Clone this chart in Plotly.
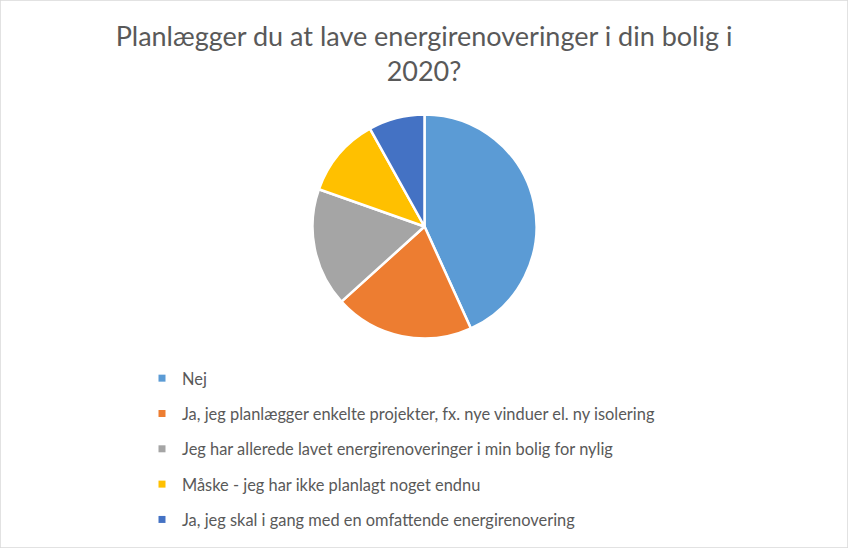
import plotly.graph_objects as go

labels = [
    "Nej",
    "Ja, jeg planlægger enkelte projekter, fx. nye vinduer el. ny isolering",
    "Jeg har allerede lavet energirenoveringer i min bolig for nylig",
    "Måske - jeg har ikke planlagt noget endnu",
    "Ja, jeg skal i gang med en omfattende energirenovering",
]
values = [43.2, 20.1, 17.1, 11.5, 8.1]
colors = ["#5B9BD5", "#ED7D31", "#A5A5A5", "#FFC000", "#4472C4"]

title = "Planlægger du at lave energirenoveringer i din bolig i<br>2020?"

W, H = 848, 548
cx, cy, r = 424.5, 226.5, 112

fig = go.Figure()
fig.add_trace(
    go.Pie(
        labels=labels,
        values=values,
        sort=False,
        direction="clockwise",
        rotation=0,
        textinfo="none",
        hoverinfo="label+percent",
        marker=dict(colors=colors, line=dict(color="white", width=2.5)),
        showlegend=False,
        domain=dict(
            x=[(cx - r) / W, (cx + r) / W],
            y=[(H - cy - r) / H, (H - cy + r) / H],
        ),
    )
)

# legend entries (one group each so the rows can be spaced out)
for i, (lab, col) in enumerate(zip(labels, colors)):
    fig.add_trace(
        go.Scatter(
            x=[None],
            y=[None],
            mode="markers",
            name=lab,
            legendgroup=str(i),
            marker=dict(symbol="square", size=7, color=col),
            hoverinfo="skip",
        )
    )

fig.update_layout(
    width=W,
    height=H,
    margin=dict(l=0, r=0, t=0, b=0),
    paper_bgcolor="white",
    plot_bgcolor="white",
    font=dict(family="Lato", color="#595959"),
    title=dict(
        text=title,
        x=0.5,
        xanchor="center",
        y=1 - 46 / H,
        yanchor="top",
        font=dict(size=27, color="#595959", family="Lato"),
    ),
    xaxis=dict(visible=False),
    yaxis=dict(visible=False),
    legend=dict(
        x=142 / W,
        xanchor="left",
        y=1 - 361 / H,
        yanchor="top",
        traceorder="grouped",
        tracegroupgap=11,
        font=dict(size=16.4, color="#595959", family="Lato"),
        bgcolor="rgba(0,0,0,0)",
        itemsizing="trace",
    ),
    shapes=[
        dict(
            type="rect",
            xref="paper",
            yref="paper",
            x0=0,
            y0=0,
            x1=1,
            y1=1,
            line=dict(color="#D9D9D9", width=1.5),
        )
    ],
)

fig.write_html(
    "out.html",
    config={"displayModeBar": False},
    post_script="document.body.style.margin='0';",
)
